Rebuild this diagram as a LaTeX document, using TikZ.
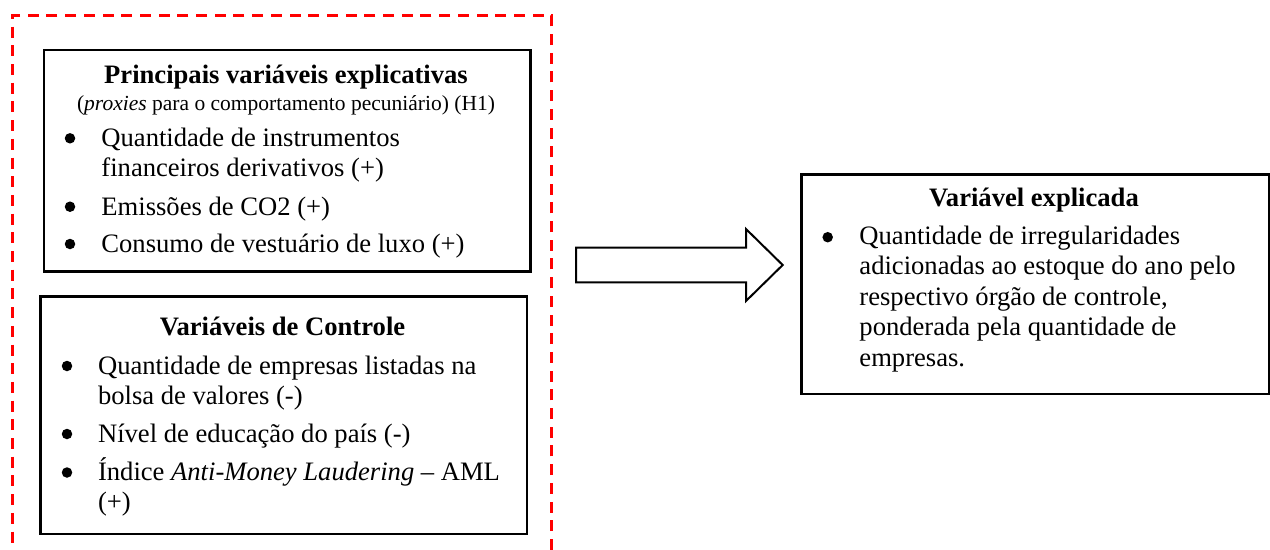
\documentclass[tikz,border=0pt]{standalone}
\usepackage{fontspec}
\setmainfont{Liberation Serif}
\newlength\pxu
\setlength\pxu{0.451pt}
\tikzset{
  x=0.451pt, y=-0.451pt,
  box/.style={draw=black, line width=1.15pt, fill=white, anchor=north west, inner sep=0pt, rectangle},
  frame/.style={draw=red, line width=1.2pt, dash pattern=on 11\pxu off 7.7\pxu, dash phase=14.7\pxu, anchor=north west, inner sep=0pt, rectangle},
  txt/.style={inner sep=0pt, anchor=base west, font=\fontsize{12}{13.8}\selectfont},
  ttl/.style={inner sep=0pt, anchor=base, font=\fontsize{12}{13.8}\selectfont\bfseries},
  sub/.style={inner sep=0pt, anchor=base, font=\fontsize{9.7}{11}\selectfont},
  bul/.style={circle, fill=black, draw=none, inner sep=0pt, minimum size=10.5\pxu},
  blockarrow/.style={draw=black, line width=0.9pt, fill=white, line join=miter}
}
\begin{document}
\begin{tikzpicture}
\useasboundingbox (0,0) rectangle (1270,549);
\clip (0,0) rectangle (1270,549);
% dashed frame (bottom edge lies below the picture)
\node[frame, minimum width=539.3\pxu, minimum height=560\pxu] (fr) at (11,14.3) {};
% box 1
\node[box, minimum width=486.6\pxu, minimum height=221.5\pxu] (b1) at (42.7,48.5) {};
\node[ttl] (t1) at (286,83.3) {Principais variáveis explicativas};
\node[sub] (s1) at (286,110) {(\textit{proxies} para o comportamento pecuniário) (H1)};
\node[bul] (d1) at (70,138.3) {};
\node[txt] (l1a) at (101,146.7) {Quantidade de instrumentos};
\node[txt] (l1b) at (101,176.5) {financeiros derivativos (+)};
\node[bul] (d2) at (70,206.7) {};
\node[txt] (l2) at (101,215) {Emissões de CO2 (+)};
\node[bul] (d3) at (70,244) {};
\node[txt] (l3) at (101,252) {Consumo de vestuário de luxo (+)};
% box 2
\node[box, minimum width=486.2\pxu, minimum height=237.7\pxu] (b2) at (39.3,295) {};
\node[ttl] (t2) at (282.5,335) {Variáveis de Controle};
\node[bul] (e1) at (67,366) {};
\node[txt] (c1a) at (97.6,374.3) {Quantidade de empresas listadas na};
\node[txt] (c1b) at (97.6,404) {bolsa de valores (-)};
\node[bul] (e2) at (67,434) {};
\node[txt] (c2) at (97.6,442) {Nível de educação do país (-)};
\node[bul] (e3) at (67,472.5) {};
\node[txt] (c3a) at (97.6,480) {Índice \textit{Anti-Money Laudering} – AML};
\node[txt] (c3b) at (97.6,510) {(+)};
% right box
\node[box, minimum width=468\pxu, minimum height=219.7\pxu] (b3) at (800,173) {};
\node[ttl] (t3) at (1034,206.7) {Variável explicada};
\node[bul] (f1) at (827.7,237.2) {};
\node[txt] (r1) at (859,244) {Quantidade de irregularidades};
\node[txt] (r2) at (859,274.5) {adicionadas ao estoque do ano pelo};
\node[txt] (r3) at (859,305) {respectivo órgão de controle,};
\node[txt] (r4) at (859,335.5) {ponderada pela quantidade de};
\node[txt] (r5) at (859,366) {empresas.};
% block arrow between the frame and the right box
\coordinate (aL) at (576,265);
\coordinate (aT) at (782.7,265);
\draw[blockarrow] (aL) ++(0,-17.3) -- (746,247.7) -- (746,229) -- (aT) -- (746,301) -- (746,282.3) -- (576,282.3) -- cycle;
\end{tikzpicture}
\end{document}
